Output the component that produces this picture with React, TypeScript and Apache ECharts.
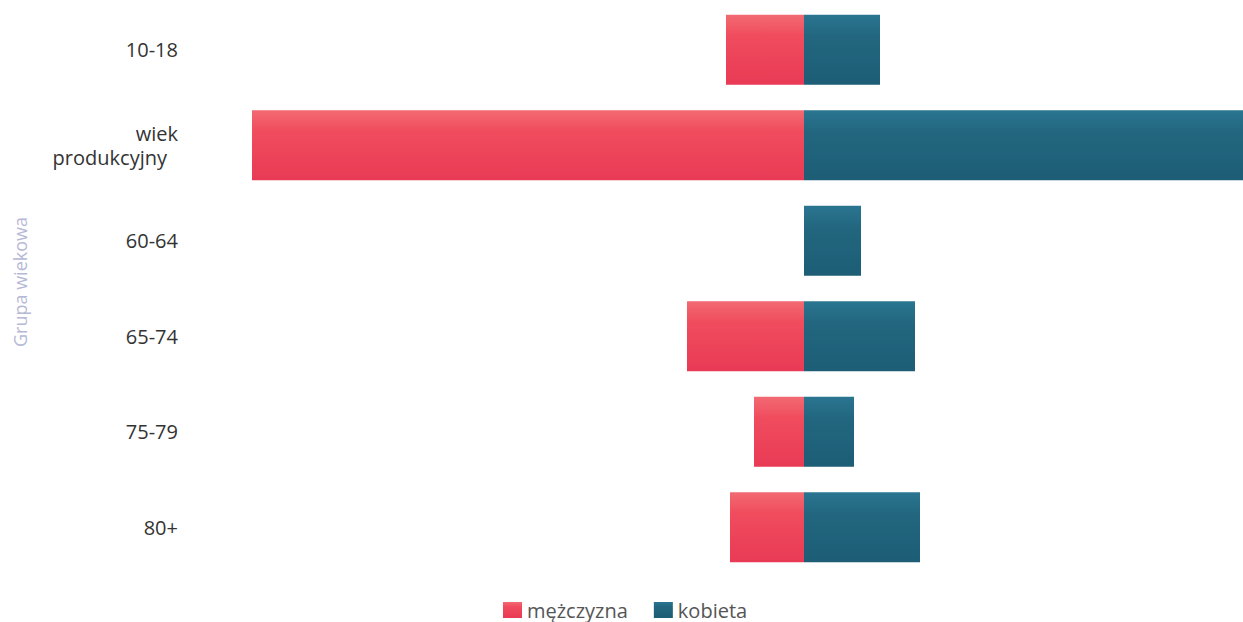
import React, { useEffect, useRef } from "react";
import * as echarts from "echarts";

const categories = ["10-18", "wiek produkcyjny", "60-64", "65-74", "75-79", "80+"];
const menValues = [156, 1104, 0, 234, 100, 148];
const womenValues = [152, 1120, 114, 222, 100, 232];
const seriesNames = ["mężczyzna", "kobieta"];
const axisTitle = "Grupa wiekowa";

export default function App() {
  const ref = useRef<HTMLDivElement>(null);
  useEffect(() => {
    if (!ref.current) return;
    const chart = echarts.init(ref.current, undefined, { renderer: "svg" });
    const red = new echarts.graphic.LinearGradient(0, 0, 0, 1, [
      { offset: 0, color: "#f26a72" },
      { offset: 0.3, color: "#f04c5e" },
      { offset: 1, color: "#e93a55" },
    ]);
    const teal = new echarts.graphic.LinearGradient(0, 0, 0, 1, [
      { offset: 0, color: "#2b7591" },
      { offset: 0.3, color: "#22677f" },
      { offset: 1, color: "#1d5d76" },
    ]);
    chart.setOption({
      animation: false,
      grid: { left: 188, right: 0, top: 2, bottom: 47, containLabel: false },
      legend: {
        data: seriesNames,
        left: 503,
        top: 599,
        itemWidth: 19,
        itemHeight: 16,
        itemGap: 26,
        icon: "rect",
        padding: 0,
        textStyle: { color: "#555", fontSize: 20, fontFamily: "Open Sans", lineHeight: 22 },
      },
      xAxis: {
        type: "value",
        min: -1232,
        max: 878,
        show: false,
      },
      yAxis: {
        type: "category",
        inverse: true,
        data: categories,
        axisLine: { show: false },
        axisTick: { show: false },
        splitLine: { show: false },
        axisLabel: {
          margin: 10,
          fontSize: 20,
          color: "#333",
          fontFamily: "Open Sans",
          formatter: (v: string) =>
            v === "wiek produkcyjny" ? "{a|wiek}\n{b|produkcyjny}" : v,
          rich: {
            a: { fontSize: 20, color: "#333", fontFamily: "Open Sans", align: "right", lineHeight: 24 },
            b: { fontSize: 20, color: "#333", fontFamily: "Open Sans", align: "right", lineHeight: 24, padding: [0, 11, 0, 0] },
          },
        },
      },
      graphic: [
        {
          type: "text",
          x: 20,
          y: 282,
          rotation: Math.PI / 2,
          style: {
            text: axisTitle,
            fill: "#b6b9d6",
            fontSize: 18,
            fontFamily: "Open Sans",
            align: "center",
            verticalAlign: "middle",
          },
        },
      ],
      series: [
        {
          name: seriesNames[0],
          type: "bar",
          stack: "total",
          barWidth: 70,
          data: menValues.map((v) => -v),
          itemStyle: { color: red },
        },
        {
          name: seriesNames[1],
          type: "bar",
          stack: "total",
          barWidth: 70,
          data: womenValues,
          itemStyle: { color: teal },
        },
      ],
    });
    return () => chart.dispose();
  }, []);
  return (
    <div
      ref={ref}
      style={{ position: "absolute", left: 0, top: 0, width: 1243, height: 622 }}
    />
  );
}
